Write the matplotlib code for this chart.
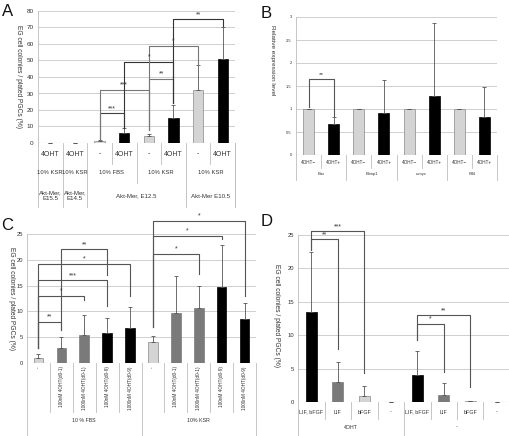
import matplotlib
matplotlib.use("Agg")
import matplotlib.pyplot as plt
import numpy as np

plt.rcParams['font.family'] = ['Liberation Sans', 'DejaVu Sans']

W, H = 510, 436

# ---------------- data ----------------
# Panel A
a_level1 = ["4OHT", "4OHT", "-", "4OHT", "-", "4OHT", "-", "4OHT"]
a_level2 = [(0, 1, "10% KSR"), (1, 2, "10% KSR"), (2, 4, "10% FBS"), (4, 6, "10% KSR"), (6, 8, "10% KSR")]
a_level3 = [(0, 1, "Akt-Mer,\nE15.5"), (1, 2, "Akt-Mer,\nE14.5"), (2, 6, "Akt-Mer, E12.5"), (6, 8, "Akt-Mer E10.5")]
a_values = [0.1, 0.3, 1.0, 6.0, 4.0, 15.0, 32.0, 51.0]
a_errors = [0.0, 0.0, 1.0, 3.0, 1.5, 8.0, 15.0, 19.5]
a_treat = ["4OHT", "4OHT", "-", "4OHT", "-", "4OHT", "-", "4OHT"]
a_yticks = [0, 10, 20, 30, 40, 50, 60, 70, 80]
# brackets: (i, j, y, y_left_end, y_right_end, label)
a_sig = [(2, 3, 18, 2, 9, "***"), (2, 4, 32, 2, 8, "***"), (4, 5, 39, 8, 24, "**"),
         (3, 5, 49, 9, 24, "*"), (4, 6, 59, 8, 47, "*"), (5, 7, 75, 24, 71, "**")]
a_sig_colors = ["#444444", "#777777", "#777777", "#333333", "#777777", "#333333"]

# Panel B
b_level1 = ["4OHT−", "4OHT+"] * 4
b_genes = ["Bax", "Blimp1", "c-myc", "Klf4"]
b_values = [1.0, 0.68, 1.0, 0.91, 1.0, 1.29, 1.0, 0.82]
b_errors = [0.0, 0.15, 0.0, 0.71, 0.0, 1.59, 0.0, 0.65]
b_yticks = [0, 0.5, 1, 1.5, 2, 2.5, 3]
b_sig = [(0, 1, 1.65, 1.05, 0.85, "**")]

# Panel C
c_level1 = ["-", "100nM 4OHT(d0-1)", "1000nM 4OHT(d0-1)", "100nM 4OHT(d0-9)", "1000nM 4OHT(d0-9)"] * 2
c_groups = ["10 % FBS", "10% KSR"]
c_values = [1.0, 3.0, 5.5, 5.9, 6.8, 4.0, 9.6, 10.7, 14.7, 8.6]
c_errors = [0.7, 2.0, 3.8, 2.8, 4.1, 1.2, 7.3, 4.3, 8.2, 3.1]
c_kind = ["none", "d1", "d1", "d9", "d9", "none", "d1", "d1", "d9", "d9"]
c_yticks = [0, 5, 10, 15, 20, 25]
c_sig = [(0, 1, 8, 3, 6.3, "**"), (0, 2, 13, 3, 12.3, "*"), (0, 3, 16, 3, 11, "***"),
         (0, 4, 19.2, 3, 13, "*"), (1, 3, 22, 6.3, 17, "**"),
         (5, 7, 21.2, 7, 17.3, "*"), (5, 8, 24.6, 7, 24, "*"), (5, 9, 27.6, 7, 13, "*")]

# Panel D
d_level1 = ["LIF, bFGF", "LIF", "bFGF", "-"] * 2
d_groups = ["4OHT", "-"]
d_values = [13.5, 3.0, 0.9, 0.0, 4.0, 1.1, 0.1, 0.0]
d_errors = [9.0, 3.0, 1.5, 0.0, 3.6, 1.7, 0.1, 0.0]
d_kind = ["both", "lif", "bfgf", "none", "both", "lif", "bfgf", "none"]
d_yticks = [0, 5, 10, 15, 20, 25]
d_sig = [(0, 1, 24.4, 22.7, 8, "**"), (0, 2, 25.6, 22.7, 4.3, "***"),
         (4, 5, 11.7, 9.3, 4.5, "*"), (4, 6, 13.0, 9.3, 2.3, "**")]

# ---------------- styles ----------------
LIGHT = "#d4d4d4"
MID = "#7a7a7a"
BLACK = "#000000"
GRID = "#cfcfcf"
LINE = "#bdbdbd"
TXT = "#333333"

fig = plt.figure(figsize=(W / 100, H / 100), dpi=100)
fig.patch.set_facecolor("white")


def add_ax(left, top, right, bottom):
    return fig.add_axes([left / W, 1 - bottom / H, (right - left) / W, (bottom - top) / H])


def style_ax(ax, yticks, ylim, fs):
    ax.set_ylim(*ylim)
    ax.set_yticks(yticks)
    ax.set_yticklabels([("%g" % t) for t in yticks], fontsize=fs, color=TXT)
    ax.tick_params(axis="y", length=0, pad=3)
    ax.tick_params(axis="x", length=0, labelbottom=False)
    for s in ["top", "right", "bottom"]:
        ax.spines[s].set_visible(False)
    ax.spines["left"].set_color(LINE)
    ax.spines["left"].set_linewidth(0.6)
    ax.yaxis.grid(True, color=GRID, lw=0.7)
    ax.set_axisbelow(True)
    ax.axhline(ylim[0], color=LINE, lw=0.8, zorder=1)


def px2frac(top, bottom, p):
    return (bottom - p) / (bottom - top)


def draw_table(ax, n, top, bottom, levels, row_bottoms, centers, fs_list, rot_list=None):
    """levels: list of span lists [(i0, i1, label)], level 0 = per-bar."""
    tr = ax.get_xaxis_transform()
    depth = {}
    for lvl, spans in enumerate(levels):
        for (i0, i1, _) in spans:
            depth[i0] = max(depth.get(i0, -1), lvl)
            depth[i1] = max(depth.get(i1, -1), lvl)
    for k, d in depth.items():
        ax.plot([k - 0.5, k - 0.5], [0, px2frac(top, bottom, row_bottoms[d])], transform=tr,
                color=LINE, lw=0.6, clip_on=False)
    for lvl, spans in enumerate(levels):
        rot = 0 if rot_list is None else rot_list[lvl]
        for (i0, i1, lab) in spans:
            xc = (i0 + i1) / 2 - 0.5
            if rot:
                ax.text(xc, px2frac(top, bottom, centers[lvl]), lab, transform=tr, rotation=rot,
                        ha="center", va="top", fontsize=fs_list[lvl], color=TXT, clip_on=False,
                        linespacing=1.0)
            else:
                ax.text(xc, px2frac(top, bottom, centers[lvl]), lab, transform=tr,
                        ha="center", va="center", fontsize=fs_list[lvl], color=TXT, clip_on=False,
                        linespacing=1.15)


def bracket(ax, i, j, y, yl, yr, lab, color="#555555", fs=5.0, dy=0.0):
    ax.plot([i, i, j, j], [yl, y, y, yr], color=color, lw=0.8, clip_on=False, zorder=4)
    ax.text((i + j) / 2, y + dy, lab, ha="center", va="bottom", fontsize=fs, color=TXT,
            clip_on=False, zorder=5)


def bars(ax, values, errors, colors, width):
    x = np.arange(len(values))
    ax.bar(x, values, width=width, color=colors, edgecolor=["#888888" if c == LIGHT else c for c in colors],
           linewidth=0.5, zorder=3)
    ax.errorbar(x, values, yerr=[np.zeros(len(errors)), errors], fmt="none", ecolor="#555555",
                elinewidth=0.6, capsize=1.5, capthick=0.6, zorder=3)
    ax.set_xlim(-0.5, len(values) - 0.5)


# ---------------- Panel A ----------------
A_T, A_B = 11, 143
axA = add_ax(38, A_T, 235, A_B)
colA = [LIGHT if t == "-" else BLACK for t in a_treat]
bars(axA, a_values, a_errors, colA, 0.42)
style_ax(axA, a_yticks, (0, 80), 4.6)
lvA0 = [(k, k + 1, a_level1[k]) for k in range(len(a_level1))]
draw_table(axA, 8, A_T, A_B, [lvA0, a_level2, a_level3], [164, 183, 207], [154, 173, 196], [5.0, 4.2, 4.4])
axA.plot([7.5, 7.5], [0, px2frac(A_T, A_B, 207)], transform=axA.get_xaxis_transform(), color=LINE, lw=0.6, clip_on=False)
axA.set_ylabel("EG cell colonies / plated PGCs (%)", rotation=270, fontsize=4.8, color=TXT)
axA.yaxis.set_label_coords(-0.115, 0.5)
for (i, j, y, yl, yr, lab), col in zip(a_sig, a_sig_colors):
    bracket(axA, i, j, y, yl, yr, lab, color=col, dy=0.8)

# ---------------- Panel B ----------------
B_T, B_B = 17, 155
axB = add_ax(296, B_T, 497, B_B)
colB = [LIGHT if k % 2 == 0 else BLACK for k in range(8)]
bars(axB, b_values, b_errors, colB, 0.44)
style_ax(axB, b_yticks, (0, 3), 3.0)
lvB0 = [(k, k + 1, b_level1[k]) for k in range(8)]
lvB1 = [(2 * g, 2 * g + 2, b_genes[g]) for g in range(4)]
draw_table(axB, 8, B_T, B_B, [lvB0, lvB1], [168, 180], [162.5, 174], [3.3, 3.0])
axB.set_ylabel("Relative expression level", rotation=270, fontsize=4.6, color=TXT)
axB.yaxis.set_label_coords(-0.13, 0.69)
for (i, j, y, yl, yr, lab) in b_sig:
    bracket(axB, i, j, y, yl, yr, lab, dy=0.05, fs=4.6)

# ---------------- Panel C ----------------
C_T, C_B = 234, 363
axC = add_ax(27, C_T, 256, C_B)
cmap = {"none": LIGHT, "d1": MID, "d9": BLACK}
bars(axC, c_values, c_errors, [cmap[k] for k in c_kind], 0.42)
style_ax(axC, c_yticks, (0, 25), 4.2)
lvC0 = [(k, k + 1, c_level1[k]) for k in range(10)]
lvC1 = [(5 * g, 5 * g + 5, c_groups[g]) for g in range(2)]
draw_table(axC, 10, C_T, C_B, [lvC0, lvC1], [412, 436], [366, 420], [3.4, 3.8], rot_list=[90, 0])
axC.set_ylabel("EG cell colonies / plated PGCs (%)", rotation=270, fontsize=4.8, color=TXT)
axC.yaxis.set_label_coords(-0.085, 0.5)
for (i, j, y, yl, yr, lab) in c_sig:
    bracket(axC, i, j, y, yl, yr, lab, dy=0.25)

# ---------------- Panel D ----------------
D_T, D_B = 235, 402
axD = add_ax(298, D_T, 510, D_B)
dmap = {"both": BLACK, "lif": MID, "bfgf": LIGHT, "none": LIGHT}
bars(axD, d_values, d_errors, [dmap[k] for k in d_kind], 0.42)
style_ax(axD, d_yticks, (0, 25), 4.2)
lvD0 = [(k, k + 1, d_level1[k]) for k in range(8)]
lvD1 = [(4 * g, 4 * g + 4, d_groups[g]) for g in range(2)]
draw_table(axD, 8, D_T, D_B, [lvD0, lvD1], [419, 436], [412, 427], [3.9, 3.8])
axD.set_ylabel("EG cell colonies / plated PGCs (%)", rotation=270, fontsize=4.8, color=TXT)
axD.yaxis.set_label_coords(-0.12, 0.52)
for (i, j, y, yl, yr, lab) in d_sig:
    bracket(axD, i, j, y, yl, yr, lab, dy=0.15)

# panel letters
for lab, x, y in [("A", 2, 4), ("B", 261, 6), ("C", 1, 218), ("D", 261, 214)]:
    fig.text(x / W, 1 - y / H, lab, fontsize=12, va="top", ha="left", color="#111111")

fig.savefig("out.png", dpi=100, facecolor="white")
